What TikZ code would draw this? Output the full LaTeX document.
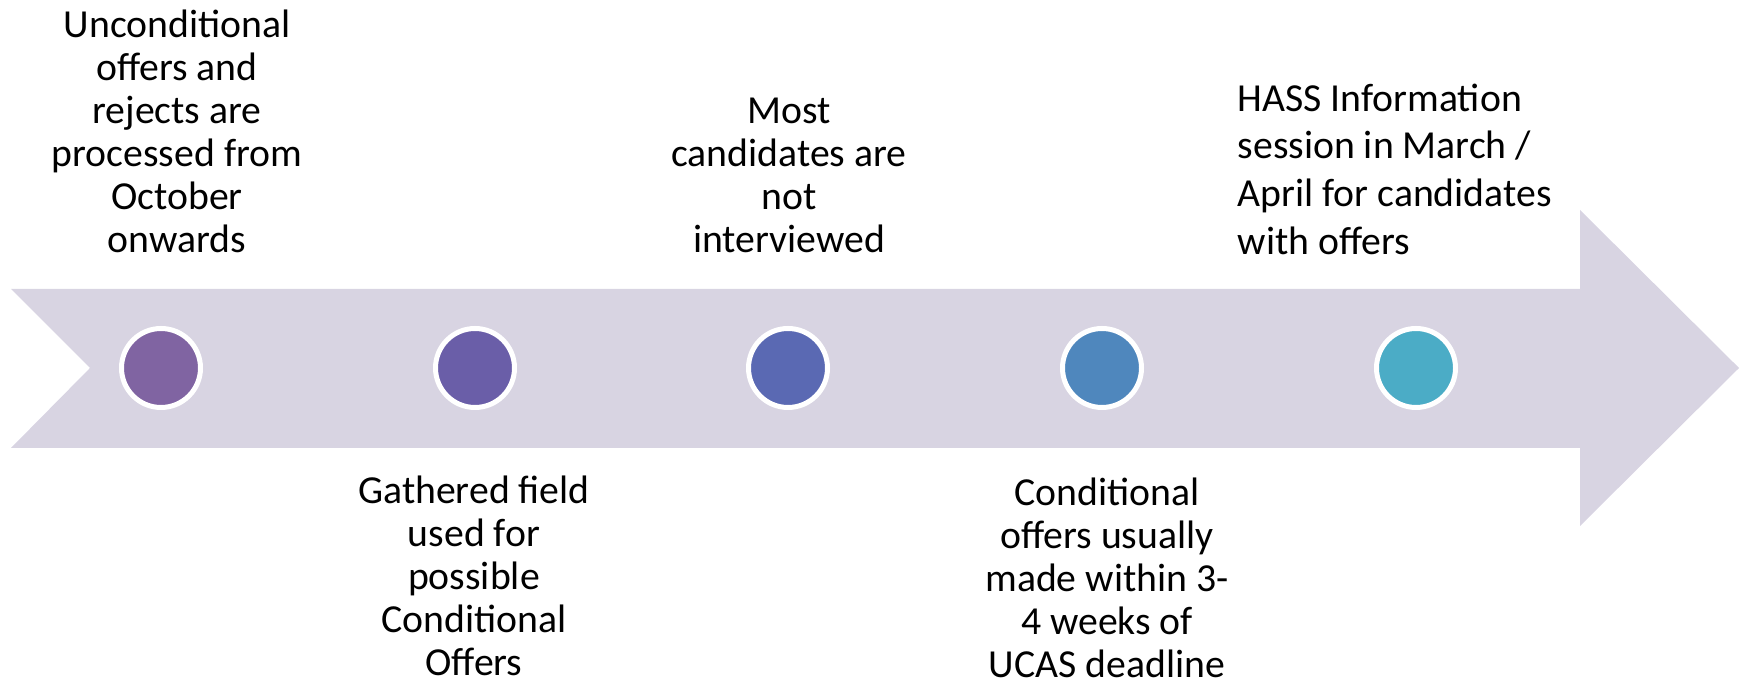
\documentclass[tikz,border=0pt]{standalone}
\usepackage{fontspec}
\setmainfont{Carlito}
\usepackage{tikz}
\usetikzlibrary{positioning}

\definecolor{band}{HTML}{D8D4E2}
\definecolor{dotA}{HTML}{8064A2}
\definecolor{dotB}{HTML}{6A5EA8}
\definecolor{dotC}{HTML}{5A69B3}
\definecolor{dotD}{HTML}{4F87BD}
\definecolor{dotE}{HTML}{4BACC6}

\tikzset{
	dot/.style={circle,draw=white,line width=0.5mm,minimum size=7.9mm,inner sep=0},
	label/.style={inner sep=0,align=center,font=\fontsize{11.3}{12.2}\selectfont}
}

\begin{document}
\begin{tikzpicture}[x=0.1mm,y=-0.1mm]
\useasboundingbox (0,0) rectangle (1742,682);
	\fill[band] (11,289) -- (1580,289) -- (1580,210) -- (1739,368) -- (1580,526)
		-- (1580,448) -- (11,448) -- (90,368) -- cycle;

	\node[dot,fill=dotA] (A) at (161,368) {};
	\node[dot,fill=dotB] (B) at (475,368) {};
	\node[dot,fill=dotC] (C) at (788,368) {};
	\node[dot,fill=dotD] (D) at (1102,368) {};
	\node[dot,fill=dotE] (E) at (1416,368) {};

	\node[label,anchor=north] (LA) at (177,7) {\strut Unconditional\\offers and\\rejects are\\processed from\\October\\onwards};
	\node[label,anchor=north] (LB) at (474,473) {\strut Gathered field\\used for\\possible\\Conditional\\Offers};
	\node[label,anchor=north] (LC) at (789,93) {\strut Most\\candidates are\\not\\interviewed};
	\node[label,anchor=north] (LD) at (1107,475) {\strut Conditional\\offers usually\\made within 3-\\4 weeks of\\UCAS deadline};
	\node[label,align=left,anchor=north west,font=\fontsize{11.3}{13.6}\selectfont] (LE) at (1237,77) {\strut HASS Information\\session in March /\\April for candidates\\with offers};
\end{tikzpicture}
\end{document}
